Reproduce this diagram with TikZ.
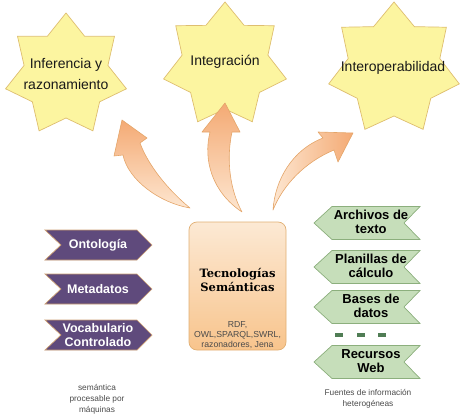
\documentclass[tikz,border=0pt]{standalone}
\usepackage{fontspec}
\setmainfont{Liberation Sans}
\newfontfamily\titlefont{DejaVu Serif}
\usetikzlibrary{calc}

\definecolor{starfill}{RGB}{252,245,160}
\definecolor{stardraw}{RGB}{222,190,112}
\definecolor{arrowdark}{RGB}{244,170,116}
\definecolor{arrowlight}{RGB}{253,230,208}
\definecolor{arrowdraw}{RGB}{228,165,105}
\definecolor{boxtop}{RGB}{252,233,212}
\definecolor{boxbot}{RGB}{248,196,140}
\definecolor{boxdraw}{RGB}{225,175,115}
\definecolor{purplefill}{RGB}{95,74,124}
\definecolor{purpledraw}{RGB}{205,160,115}
\definecolor{greenfill}{RGB}{198,222,186}
\definecolor{greendraw}{RGB}{140,175,125}
\definecolor{dashgreen}{RGB}{80,125,85}
\definecolor{smallgray}{RGB}{75,75,75}

\newcommand\sevenstar[3]{%
  \draw[starsty] (#1) +(-90:#2)
    \foreach \k in {1,...,6} { -- +({-90+\k*360/7-180/7}:#3) -- +({-90+\k*360/7}:#2) }
    -- +({-90-180/7}:#3) -- cycle;}
\newcommand\lchev[1]{%
  \draw[purplesty] (45,#1-15) -- (137,#1-15) -- (152,#1) -- (137,#1+15) -- (45,#1+15) -- (61,#1) -- cycle;}
\newcommand\rchev[1]{%
  \draw[greensty] (314,#1) -- (332,#1-16.5) -- (420,#1-16.5) -- (404,#1) -- (420,#1+16.5) -- (332,#1+16.5) -- cycle;}

\tikzset{
  starsty/.style={fill=starfill, draw=stardraw, line width=0.7pt, line join=miter},
  startext/.style={inner sep=0pt, align=center, text={rgb,255:red,25;green,25;blue,25}, font=\fontsize{14}{21}\selectfont},
  arrowsty/.style={draw=arrowdraw, line width=0.6pt, line join=round},
  techbox/.style={rounded corners=8pt, draw=boxdraw, line width=0.7pt, top color=boxtop, bottom color=boxbot, minimum width=97pt, minimum height=128pt, inner sep=0pt},
  titlesty/.style={inner sep=0pt, align=center, font=\titlefont\bfseries\fontsize{11.5}{14}\selectfont},
  substy/.style={inner sep=0pt, align=center, text=smallgray, font=\fontsize{8.7}{10}\selectfont},
  purplesty/.style={fill=purplefill, draw=purpledraw, line width=0.7pt},
  greensty/.style={fill=greenfill, draw=greendraw, line width=0.7pt},
  ltext/.style={inner sep=0pt, align=center, text=white, font=\bfseries\fontsize{12.5}{14}\selectfont},
  rtext/.style={inner sep=0pt, align=center, text=black, font=\bfseries\fontsize{13}{13.5}\selectfont},
  dashsty/.style={fill=dashgreen, inner sep=0pt, minimum width=8pt, minimum height=3.5pt},
  notesty/.style={inner sep=0pt, align=center, text=smallgray, font=\fontsize{8.3}{11}\selectfont}
}

\begin{document}
\begin{tikzpicture}[x=1pt,y=-1pt]
\useasboundingbox (0,0) rectangle (471,420);

% stars
\coordinate (s1) at (66,75);
\coordinate (s2) at (225,65);
\coordinate (s3) at (394,69);
\sevenstar{s1}{62}{43}
\sevenstar{s2}{63}{44}
\sevenstar{s3}{67}{47}
\node[startext] (t1) at (66,74) {Inferencia y\\razonamiento};
\node[startext] (t2) at (225,62) {Integración};
\node[startext] (t3) at (393,68) {Interoperabilidad};

% curved block arrows
\coordinate (a1base) at (190,208);
\coordinate (a1tip) at (122,120);
\coordinate (a2base) at (242,212);
\coordinate (a2tip) at (225,103);
\coordinate (a3base) at (273,210);
\coordinate (a3tip) at (353,133);
\shadedraw[arrowsty, top color=arrowdark, bottom color=arrowlight]
  (a1base) .. controls (168,190) and (148,165) .. (140,143) -- (147,138) -- (a1tip)
  -- (114,156) -- (123,155) .. controls (128,180) and (160,203) .. (a1base) -- cycle;
\shadedraw[arrowsty, top color=arrowdark, bottom color=arrowlight]
  (a2base) .. controls (230,190) and (226,160) .. (232,132) -- (240,132) -- (a2tip)
  -- (202,132) -- (210,132) .. controls (203,160) and (212,192) .. (a2base) -- cycle;
\shadedraw[arrowsty, left color=arrowlight, right color=arrowdark]
  (a3base) .. controls (275,180) and (292,150) .. (323,138) -- (318,132) -- (a3tip)
  -- (338,162) -- (334,150) .. controls (305,162) and (283,185) .. (a3base) -- cycle;

% central box
\node[techbox] (tec) at (237.5,286) {};
\node[titlesty] (tectitle) at (237.5,280) {Tecnologías\\Semánticas};
\node[substy] (tecsub) at (237.5,335) {RDF,\\OWL,SPARQL,SWRL,\\razonadores, Jena};

% left chevrons
\lchev{245}
\lchev{289}
\lchev{335}
\node[ltext] (onto) at (98,245) {Ontología};
\node[ltext] (meta) at (98,289) {Metadatos};
\node[ltext] (voca) at (98,335) {Vocabulario\\Controlado};
\node[notesty] (lsem) at (97,399) {semántica\\procesable por\\máquinas};

% right chevrons
\rchev{223}
\rchev{267}
\rchev{307}
\rchev{362}
\node[rtext] (arch) at (371,222) {Archivos de\\texto};
\node[rtext] (plan) at (371,266) {Planillas de\\cálculo};
\node[rtext] (base) at (371,306) {Bases de\\datos};
\node[rtext] (recu) at (371,361) {Recursos\\Web};
\node[dashsty] (d1) at (339,335) {};
\node[dashsty] (d2) at (361,335) {};
\node[dashsty] (d3) at (382,335) {};
\node[notesty] (lfue) at (368,399) {Fuentes de información\\heterogéneas};
\end{tikzpicture}
\end{document}
